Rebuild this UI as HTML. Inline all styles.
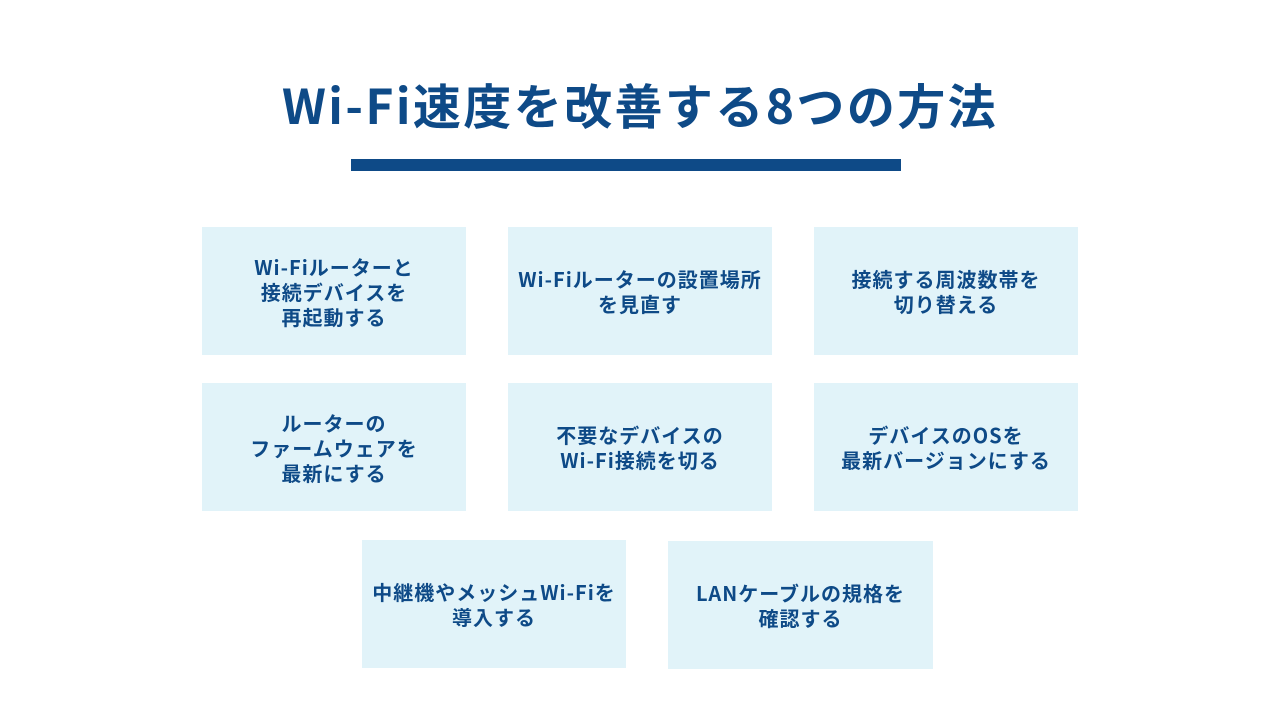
<!DOCTYPE html>
<html><head><meta charset="utf-8"><style>
body{margin:0;width:1280px;height:720px;background:#fff;position:relative;overflow:hidden;font-family:"Noto Sans CJK JP","Liberation Sans",sans-serif;color:#0e4a87}
.t{position:absolute;left:0;width:1280px;top:68px;text-align:center;font-size:48px;font-weight:bold;line-height:70px;letter-spacing:2.4px}
.bar{position:absolute;left:351px;top:159px;width:550px;height:12px;background:#0e4a87}
.b{position:absolute;width:264px;height:128px;background:#e1f3f9;display:flex;align-items:center;justify-content:center;text-align:center;font-size:20px;font-weight:bold;line-height:25px;letter-spacing:1px}
</style></head><body>
<div class="t">Wi-Fi速度を改善する8つの方法</div>
<div class="bar"></div>
<div class="b" style="left:202px;top:227px">Wi-Fiルーターと<br>接続デバイスを<br>再起動する</div>
<div class="b" style="left:508px;top:227px">Wi-Fiルーターの設置場所<br>を見直す</div>
<div class="b" style="left:814px;top:227px">接続する周波数帯を<br>切り替える</div>
<div class="b" style="left:202px;top:383px">ルーターの<br>ファームウェアを<br>最新にする</div>
<div class="b" style="left:508px;top:383px">不要なデバイスの<br>Wi-Fi接続を切る</div>
<div class="b" style="left:814px;top:383px">デバイスのOSを<br>最新バージョンにする</div>
<div class="b" style="left:362px;top:540px">中継機やメッシュWi-Fiを<br>導入する</div>
<div class="b" style="left:668px;top:541px;width:265px">LANケーブルの規格を<br>確認する</div>
</body></html>
